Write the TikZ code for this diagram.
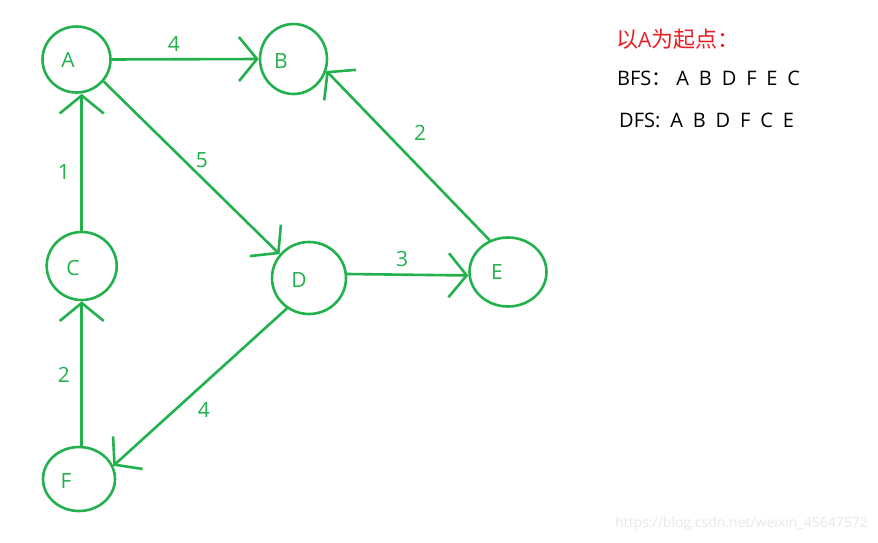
\documentclass[tikz,border=0pt]{standalone}
\usepackage{fontspec}
\setmainfont{Open Sans}
\newfontfamily\cjk{Noto Sans CJK SC}
\newfontfamily\wide[WordSpace=1.9]{Open Sans}
\usetikzlibrary{arrows.meta,shapes.geometric}
\definecolor{pgreen}{RGB}{34,177,76}
\definecolor{pred}{RGB}{237,28,36}
\definecolor{wm}{RGB}{232,232,232}
\tikzset{
  vert/.style={draw=pgreen,line width=2.6pt,ellipse,inner sep=0pt},
  vlab/.style={text=pgreen,font=\fontsize{21}{21}\selectfont},
  elab/.style={text=pgreen,font=\fontsize{21}{21}\selectfont},
  edge/.style={draw=pgreen,line width=2.6pt,-{Straight Barb[length=18pt,width=44pt,line width=2.6pt]}},
  txt/.style={anchor=west,font=\wide\fontsize{20}{20}\selectfont,inner sep=0pt},
}
\begin{document}
\begin{tikzpicture}[x=1pt,y=-1pt]
\useasboundingbox (0,0) rectangle (878,543);
\fill[white] (0,0) rectangle (878,543);
% vertices
\node[vert,minimum width=68pt,minimum height=66pt] (A) at (76.5,59.5) {};
\node[vert,minimum width=67pt,minimum height=70pt] (B) at (293.5,59) {};
\node[vert,minimum width=70pt,minimum height=68pt] (C) at (81.7,266) {};
\node[vert,minimum width=74pt,minimum height=72pt] (D) at (309,278) {};
\node[vert,minimum width=77pt,minimum height=69pt] (E) at (508,272) {};
\node[vert,minimum width=72pt,minimum height=64pt] (F) at (79,479) {};
% vertex labels
\node[vlab] (lA) at (68,60) {A};
\node[vlab] (lB) at (281,61) {B};
\node[vlab] (lC) at (73,268) {C};
\node[vlab] (lD) at (299,280) {D};
\node[vlab] (lE) at (497,272) {E};
\node[vlab] (lF) at (66,481) {F};
% edges
\draw[edge] (A.east) -- (B.west);
\draw[edge] (A.-39) -- (D.141);
\draw[edge] (C.north) -- (A.south -| C.north);
\draw[edge] (F.north -| C.south) -- (C.south);
\draw[edge] (D.-126) -- (F.21);
\draw[edge] (D.6) -- (E.185);
\draw[edge] (E.120) -- (B.-20);
% edge labels
\node[elab] (w1) at (174,44) {4};
\node[elab] (w2) at (202,160) {5};
\node[elab] (w3) at (64,172) {1};
\node[elab] (w4) at (64,375) {2};
\node[elab] (w5) at (204,410) {4};
\node[elab] (w6) at (402,259) {3};
\node[elab] (w7) at (420,133) {2};
% text
\node[txt,text=pred] (t1) at (616,39) {{\cjk\fontsize{22}{22}\selectfont 以}{\fontsize{21}{21}\selectfont A}{\cjk\fontsize{22}{22}\selectfont 为起点：}};
\node[txt] (t2) at (617,78) {BFS{\cjk ：}\hspace{5pt}A B D F E C};
\node[txt] (t3) at (619,120) {DFS: A B D F C E};
\node[anchor=east,text=wm,font=\fontsize{14}{14}\selectfont,inner sep=0pt] (wm) at (868,524) {https://blog.csdn.net/weixin\_45647572};
\end{tikzpicture}
\end{document}
